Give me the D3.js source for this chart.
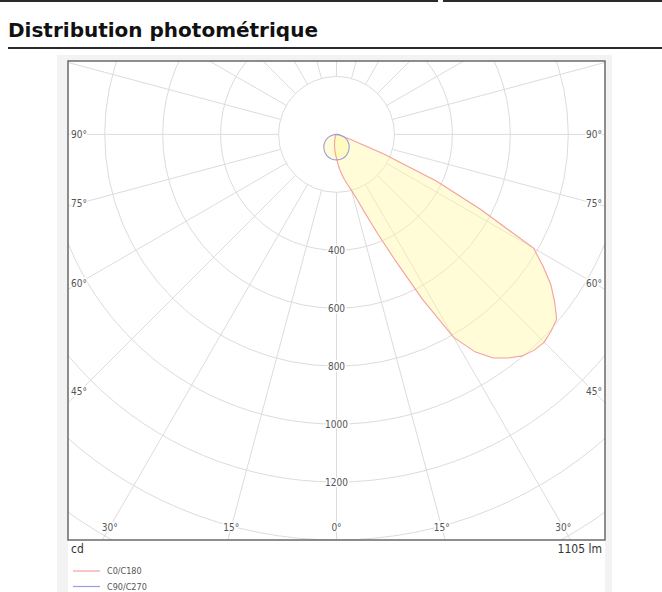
<!DOCTYPE html>
<html>
<head>
<meta charset="utf-8">
<script src="https://cdn.jsdelivr.net/npm/d3@7"></script>
<style>
  html, body { margin: 0; padding: 0; background: #fff; }
  svg { display: block; }
</style>
</head>
<body>
<svg id="chart" width="662" height="592"></svg>
<script>
// Photometric distribution: luminous intensity (cd) versus gamma angle for two C-planes
const title = "Distribution photométrique";

// C0 half-plane (drawn to the right), gamma in degrees from nadir
const gammaC0 = [0, 2.5, 5, 7.5, 10, 12.5, 15, 17.5, 20, 22.5, 25, 27.5, 30, 32.5, 35, 37.5, 40, 42.5, 45,
                 47.5, 50, 52.5, 55, 57.5, 60, 62.5, 65, 67.5, 70, 75, 80, 85, 90];
const intensityC0 = [83, 100, 120, 138, 158, 178, 200, 235, 290, 370, 480, 640, 809, 890, 942, 973, 998, 1010, 1014,
                     1005, 992, 949, 903, 845, 785, 560, 380, 175, 50, 12, 5, 2, 0];

// C180 half-plane (drawn to the left)
const gammaC180 = [0, 5, 10, 15, 20, 30, 45, 60, 75, 90];
const intensityC180 = [83, 60, 40, 25, 15, 8, 4, 2, 1, 0];

// C90 / C270 planes (symmetric)
const gammaC90 = [0, 5, 10, 15, 20, 25, 30, 35, 40, 45, 50, 55, 60, 65, 70, 75, 80, 85, 90];
const intensityC90 = [88, 88, 87, 85, 83, 80, 76, 72, 67, 62, 57, 50, 44, 37, 30, 23, 15, 8, 0];

// Grid
const ringValues = [200, 400, 600, 800, 1000, 1200, 1400, 1600, 1800, 2000, 2200];
const ringLabels = [400, 600, 800, 1000, 1200];
const spokeAngles = d3.range(0, 360, 15);
const sideAngleLabels = [90, 75, 60, 45];
const bottomAngleLabels = [-30, -15, 0, 15, 30];

const unitLabel = "cd";
const fluxLabel = "1105 lm";
const seriesNames = ["C0/C180", "C90/C270"];
const seriesColors = ["#f4a09c", "#9c9ce6"];

const svg = d3.select("#chart");

// page header
svg.append("rect").attr("x", 0).attr("y", 0).attr("width", 438).attr("height", 2).attr("fill", "#2a2a2a");
svg.append("rect").attr("x", 443).attr("y", 0).attr("width", 219).attr("height", 2).attr("fill", "#2a2a2a");
svg.append("text").attr("x", 8).attr("y", 37)
  .attr("font-family", "'DejaVu Sans', Verdana, sans-serif")
  .attr("font-weight", "bold").attr("font-size", 20).attr("fill", "#111")
  .text(title);
svg.append("rect").attr("x", 8).attr("y", 47).attr("width", 654).attr("height", 2).attr("fill", "#2a2a2a");

// outer panel
const panel = { x: 57, y: 55, w: 555, h: 537 };
svg.append("rect").attr("x", panel.x).attr("y", panel.y).attr("width", panel.w).attr("height", panel.h)
  .attr("fill", "#f3f3f3");
svg.append("rect").attr("x", 68).attr("y", 61).attr("width", 537).attr("height", 531).attr("fill", "#fff");

// plot box
const box = { left: 68, top: 61, right: 605, bottom: 540 };
const cx = (box.left + box.right) / 2;
const cy = 134.4;
const r = d3.scaleLinear().domain([0, 1400]).range([0, box.bottom - cy]);

const toXY = (gammaDeg, value, side) => {
  const a = gammaDeg * Math.PI / 180;
  return [cx + side * r(value) * Math.sin(a), cy + r(value) * Math.cos(a)];
};

svg.append("clipPath").attr("id", "plotClip")
  .append("rect").attr("x", box.left).attr("y", box.top)
  .attr("width", box.right - box.left).attr("height", box.bottom - box.top);

const plot = svg.append("g").attr("clip-path", "url(#plotClip)");

// rings
plot.selectAll("circle.ring").data(ringValues).join("circle")
  .attr("class", "ring")
  .attr("cx", cx).attr("cy", cy).attr("r", d => r(d))
  .attr("fill", "none").attr("stroke", "#dcdcdc").attr("stroke-width", 1);

// spokes starting at the first ring
plot.selectAll("line.spoke").data(spokeAngles).join("line")
  .attr("class", "spoke")
  .attr("x1", d => toXY(d, ringValues[0], 1)[0])
  .attr("y1", d => toXY(d, ringValues[0], 1)[1])
  .attr("x2", d => toXY(d, 3000, 1)[0])
  .attr("y2", d => toXY(d, 3000, 1)[1])
  .attr("stroke", "#dcdcdc").attr("stroke-width", 1);

// curves
const lineGen = d3.line().curve(d3.curveLinearClosed);

const c0c180 = [];
for (let i = gammaC180.length - 1; i >= 0; i--) c0c180.push(toXY(gammaC180[i], intensityC180[i], -1));
for (let i = 0; i < gammaC0.length; i++) c0c180.push(toXY(gammaC0[i], intensityC0[i], 1));

const c90c270 = [];
for (let i = gammaC90.length - 1; i >= 0; i--) c90c270.push(toXY(gammaC90[i], intensityC90[i], -1));
for (let i = 1; i < gammaC90.length; i++) c90c270.push(toXY(gammaC90[i], intensityC90[i], 1));

const curves = [c0c180, c90c270];
plot.selectAll("path.fill").data(curves).join("path")
  .attr("class", "fill")
  .attr("d", d => lineGen(d))
  .attr("fill", "rgb(255,249,160)").attr("fill-opacity", 0.42).attr("stroke", "none");
plot.selectAll("path.curve").data(curves).join("path")
  .attr("class", "curve")
  .attr("d", d => lineGen(d))
  .attr("fill", "none")
  .attr("stroke", (d, i) => seriesColors[i]).attr("stroke-width", 1.1);

// labels
const labelFont = "'Liberation Sans Narrow', 'DejaVu Sans Condensed', 'Liberation Sans', sans-serif";
const labels = svg.append("g")
  .attr("font-family", labelFont).attr("font-size", 10).attr("fill", "#555")
  .attr("text-anchor", "middle").attr("dominant-baseline", "central")
  .attr("stroke", "#fff").attr("stroke-width", 3).attr("paint-order", "stroke").attr("stroke-linejoin", "round");

labels.selectAll("text.ring").data(ringLabels).join("text")
  .attr("class", "ring")
  .attr("x", cx).attr("y", d => cy + r(d))
  .text(d => d);

// side labels: centred on the spoke at a fixed distance from the left/right edges
const sideInset = 11;
sideAngleLabels.forEach(a => {
  const t = Math.tan((90 - a) * Math.PI / 180);
  const dxL = cx - (box.left + sideInset);
  labels.append("text").attr("x", box.left + sideInset).attr("y", cy + dxL * t).text(a + "°");
  labels.append("text").attr("x", box.right - sideInset).attr("y", cy + dxL * t).text(a + "°");
});

// bottom labels: centred on the spoke at a fixed height above the bottom edge
const bottomInset = 13;
bottomAngleLabels.forEach(a => {
  const yy = box.bottom - bottomInset;
  const xx = cx + (yy - cy) * Math.tan(a * Math.PI / 180);
  labels.append("text").attr("x", xx).attr("y", yy).text(Math.abs(a) + "°");
});

// box border
svg.append("rect").attr("x", box.left).attr("y", box.top)
  .attr("width", box.right - box.left).attr("height", box.bottom - box.top)
  .attr("fill", "none").attr("stroke", "#6a6a6a").attr("stroke-width", 1.5);

// footer texts
const foot = svg.append("g").attr("font-family", labelFont).attr("font-size", 12).attr("fill", "#333");
foot.append("text").attr("x", 71).attr("y", 553).text(unitLabel);
foot.append("text").attr("x", 602).attr("y", 553).attr("text-anchor", "end").text(fluxLabel);

// legend
const legend = svg.append("g").attr("font-family", labelFont).attr("font-size", 9).attr("fill", "#555");
seriesNames.forEach((name, i) => {
  const y = 571 + i * 15.5;
  legend.append("line").attr("x1", 73).attr("x2", 100).attr("y1", y).attr("y2", y)
    .attr("stroke", seriesColors[i]).attr("stroke-width", 1.2);
  legend.append("text").attr("x", 107).attr("y", y).attr("dominant-baseline", "central").text(name);
});
</script>
</body>
</html>
